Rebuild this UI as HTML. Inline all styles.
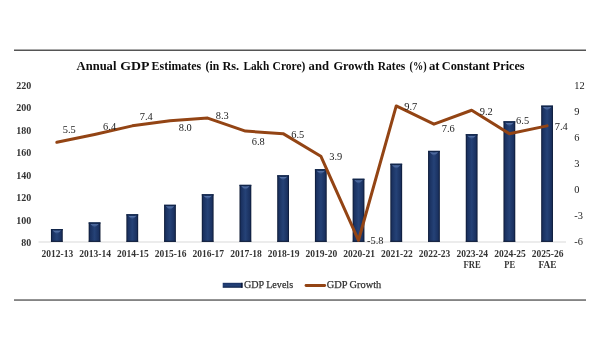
<!DOCTYPE html><html><head><meta charset="utf-8"><style>html,body{margin:0;padding:0;background:#fff;width:600px;height:350px;overflow:hidden}svg{display:block;will-change:transform}text{font-family:"Liberation Serif",serif}</style></head><body>
<svg width="600" height="350" viewBox="0 0 600 350">
<defs>
<linearGradient id="bg" x1="0" y1="0" x2="1" y2="0">
<stop offset="0" stop-color="#0a1630"/>
<stop offset="0.14" stop-color="#1a3160"/>
<stop offset="0.5" stop-color="#254277"/>
<stop offset="0.86" stop-color="#1a3160"/>
<stop offset="1" stop-color="#0a1630"/>
</linearGradient>
<linearGradient id="lg" x1="0" y1="0" x2="0" y2="1">
<stop offset="0" stop-color="#1a3262"/>
<stop offset="0.5" stop-color="#24427a"/>
<stop offset="1" stop-color="#12264c"/>
</linearGradient>
<linearGradient id="vg" x1="0" y1="0" x2="0" y2="1">
<stop offset="0" stop-color="#6f8cc0" stop-opacity="0.9"/>
<stop offset="1" stop-color="#4a68a0" stop-opacity="0.2"/>
</linearGradient>
</defs>
<rect x="14" y="49.5" width="572" height="1.5" fill="#555"/>
<rect x="14" y="299.3" width="572" height="1.5" fill="#666"/>
<text x="76.60" y="69.6" font-size="12.5" font-weight="bold" fill="#0d0d0d" textLength="39.80" lengthAdjust="spacingAndGlyphs">Annual</text>
<text x="120.20" y="69.6" font-size="12.5" font-weight="bold" fill="#0d0d0d" textLength="29.20" lengthAdjust="spacingAndGlyphs">GDP</text>
<text x="151.60" y="69.6" font-size="12.5" font-weight="bold" fill="#0d0d0d" textLength="49.60" lengthAdjust="spacingAndGlyphs">Estimates</text>
<text x="205.60" y="69.6" font-size="12.5" font-weight="bold" fill="#0d0d0d" textLength="13.60" lengthAdjust="spacingAndGlyphs">(in</text>
<text x="222.40" y="69.6" font-size="12.5" font-weight="bold" fill="#0d0d0d" textLength="16.80" lengthAdjust="spacingAndGlyphs">Rs.</text>
<text x="243.40" y="69.6" font-size="12.5" font-weight="bold" fill="#0d0d0d" textLength="25.80" lengthAdjust="spacingAndGlyphs">Lakh</text>
<text x="272.60" y="69.6" font-size="12.5" font-weight="bold" fill="#0d0d0d" textLength="32.80" lengthAdjust="spacingAndGlyphs">Crore)</text>
<text x="308.60" y="69.6" font-size="12.5" font-weight="bold" fill="#0d0d0d" textLength="20.40" lengthAdjust="spacingAndGlyphs">and</text>
<text x="333.40" y="69.6" font-size="12.5" font-weight="bold" fill="#0d0d0d" textLength="40.80" lengthAdjust="spacingAndGlyphs">Growth</text>
<text x="377.80" y="69.6" font-size="12.5" font-weight="bold" fill="#0d0d0d" textLength="27.40" lengthAdjust="spacingAndGlyphs">Rates</text>
<text x="409.60" y="69.6" font-size="12.5" font-weight="bold" fill="#0d0d0d" textLength="17.00" lengthAdjust="spacingAndGlyphs">(%)</text>
<text x="429.00" y="69.6" font-size="12.5" font-weight="bold" fill="#0d0d0d" textLength="10.60" lengthAdjust="spacingAndGlyphs">at</text>
<text x="441.80" y="69.6" font-size="12.5" font-weight="bold" fill="#0d0d0d" textLength="47.80" lengthAdjust="spacingAndGlyphs">Constant</text>
<text x="492.80" y="69.6" font-size="12.5" font-weight="bold" fill="#0d0d0d" textLength="31.80" lengthAdjust="spacingAndGlyphs">Prices</text>
<rect x="38.5" y="241.5" width="527.5" height="1" fill="#d9d9d9"/>
<text x="31.3" y="246.05" font-size="10" font-weight="bold" fill="#333" text-anchor="end">80</text>
<text x="31.3" y="223.56" font-size="10" font-weight="bold" fill="#333" text-anchor="end">100</text>
<text x="31.3" y="201.08" font-size="10" font-weight="bold" fill="#333" text-anchor="end">120</text>
<text x="31.3" y="178.59" font-size="10" font-weight="bold" fill="#333" text-anchor="end">140</text>
<text x="31.3" y="156.11" font-size="10" font-weight="bold" fill="#333" text-anchor="end">160</text>
<text x="31.3" y="133.62" font-size="10" font-weight="bold" fill="#333" text-anchor="end">180</text>
<text x="31.3" y="111.14" font-size="10" font-weight="bold" fill="#333" text-anchor="end">200</text>
<text x="31.3" y="88.65" font-size="10" font-weight="bold" fill="#333" text-anchor="end">220</text>
<text x="574.2" y="244.80" font-size="10.4" fill="#1a1a1a">-6</text>
<text x="574.2" y="218.80" font-size="10.4" fill="#1a1a1a">-3</text>
<text x="574.2" y="192.80" font-size="10.4" fill="#1a1a1a">0</text>
<text x="574.2" y="166.80" font-size="10.4" fill="#1a1a1a">3</text>
<text x="574.2" y="140.80" font-size="10.4" fill="#1a1a1a">6</text>
<text x="574.2" y="114.80" font-size="10.4" fill="#1a1a1a">9</text>
<text x="574.2" y="88.80" font-size="10.4" fill="#1a1a1a">12</text>
<rect x="50.95" y="229.01" width="11.8" height="12.79" fill="url(#bg)"/>
<rect x="50.95" y="229.01" width="11.8" height="1.3" fill="#12264a"/>
<rect x="50.95" y="240.8" width="11.8" height="1" fill="#0d1a35"/>
<path d="M52.75 230.51 Q56.85 231.21 60.95 230.51 Q58.35 233.51 56.85 233.81 Q55.35 233.51 52.75 230.51 Z" fill="url(#vg)"/>
<rect x="88.66" y="222.40" width="11.8" height="19.40" fill="url(#bg)"/>
<rect x="88.66" y="222.40" width="11.8" height="1.3" fill="#12264a"/>
<rect x="88.66" y="240.8" width="11.8" height="1" fill="#0d1a35"/>
<path d="M90.46 223.90 Q94.56 224.60 98.66 223.90 Q96.06 226.90 94.56 227.20 Q93.06 226.90 90.46 223.90 Z" fill="url(#vg)"/>
<rect x="126.37" y="214.23" width="11.8" height="27.57" fill="url(#bg)"/>
<rect x="126.37" y="214.23" width="11.8" height="1.3" fill="#12264a"/>
<rect x="126.37" y="240.8" width="11.8" height="1" fill="#0d1a35"/>
<path d="M128.17 215.73 Q132.27 216.43 136.37 215.73 Q133.77 218.73 132.27 219.03 Q130.77 218.73 128.17 215.73 Z" fill="url(#vg)"/>
<rect x="164.08" y="204.77" width="11.8" height="37.03" fill="url(#bg)"/>
<rect x="164.08" y="204.77" width="11.8" height="1.3" fill="#12264a"/>
<rect x="164.08" y="240.8" width="11.8" height="1" fill="#0d1a35"/>
<path d="M165.88 206.27 Q169.98 206.97 174.08 206.27 Q171.48 209.27 169.98 209.57 Q168.48 209.27 165.88 206.27 Z" fill="url(#vg)"/>
<rect x="201.79" y="194.22" width="11.8" height="47.58" fill="url(#bg)"/>
<rect x="201.79" y="194.22" width="11.8" height="1.3" fill="#12264a"/>
<rect x="201.79" y="240.8" width="11.8" height="1" fill="#0d1a35"/>
<path d="M203.59 195.72 Q207.69 196.42 211.79 195.72 Q209.19 198.72 207.69 199.02 Q206.19 198.72 203.59 195.72 Z" fill="url(#vg)"/>
<rect x="239.50" y="184.82" width="11.8" height="56.98" fill="url(#bg)"/>
<rect x="239.50" y="184.82" width="11.8" height="1.3" fill="#12264a"/>
<rect x="239.50" y="240.8" width="11.8" height="1" fill="#0d1a35"/>
<path d="M241.30 186.32 Q245.40 187.02 249.50 186.32 Q246.90 189.32 245.40 189.62 Q243.90 189.32 241.30 186.32 Z" fill="url(#vg)"/>
<rect x="277.21" y="175.27" width="11.8" height="66.53" fill="url(#bg)"/>
<rect x="277.21" y="175.27" width="11.8" height="1.3" fill="#12264a"/>
<rect x="277.21" y="240.8" width="11.8" height="1" fill="#0d1a35"/>
<path d="M279.01 176.77 Q283.11 177.47 287.21 176.77 Q284.61 179.77 283.11 180.07 Q281.61 179.77 279.01 176.77 Z" fill="url(#vg)"/>
<rect x="314.92" y="169.18" width="11.8" height="72.62" fill="url(#bg)"/>
<rect x="314.92" y="169.18" width="11.8" height="1.3" fill="#12264a"/>
<rect x="314.92" y="240.8" width="11.8" height="1" fill="#0d1a35"/>
<path d="M316.72 170.68 Q320.82 171.38 324.92 170.68 Q322.32 173.68 320.82 173.98 Q319.32 173.68 316.72 170.68 Z" fill="url(#vg)"/>
<rect x="352.63" y="178.71" width="11.8" height="63.09" fill="url(#bg)"/>
<rect x="352.63" y="178.71" width="11.8" height="1.3" fill="#12264a"/>
<rect x="352.63" y="240.8" width="11.8" height="1" fill="#0d1a35"/>
<path d="M354.43 180.21 Q358.53 180.91 362.63 180.21 Q360.03 183.21 358.53 183.51 Q357.03 183.21 354.43 180.21 Z" fill="url(#vg)"/>
<rect x="390.34" y="163.70" width="11.8" height="78.10" fill="url(#bg)"/>
<rect x="390.34" y="163.70" width="11.8" height="1.3" fill="#12264a"/>
<rect x="390.34" y="240.8" width="11.8" height="1" fill="#0d1a35"/>
<path d="M392.14 165.20 Q396.24 165.90 400.34 165.20 Q397.74 168.20 396.24 168.50 Q394.74 168.20 392.14 165.20 Z" fill="url(#vg)"/>
<rect x="428.05" y="150.85" width="11.8" height="90.95" fill="url(#bg)"/>
<rect x="428.05" y="150.85" width="11.8" height="1.3" fill="#12264a"/>
<rect x="428.05" y="240.8" width="11.8" height="1" fill="#0d1a35"/>
<path d="M429.85 152.35 Q433.95 153.05 438.05 152.35 Q435.45 155.35 433.95 155.65 Q432.45 155.35 429.85 152.35 Z" fill="url(#vg)"/>
<rect x="465.76" y="134.15" width="11.8" height="107.65" fill="url(#bg)"/>
<rect x="465.76" y="134.15" width="11.8" height="1.3" fill="#12264a"/>
<rect x="465.76" y="240.8" width="11.8" height="1" fill="#0d1a35"/>
<path d="M467.56 135.65 Q471.66 136.35 475.76 135.65 Q473.16 138.65 471.66 138.95 Q470.16 138.65 467.56 135.65 Z" fill="url(#vg)"/>
<rect x="503.47" y="121.26" width="11.8" height="120.54" fill="url(#bg)"/>
<rect x="503.47" y="121.26" width="11.8" height="1.3" fill="#12264a"/>
<rect x="503.47" y="240.8" width="11.8" height="1" fill="#0d1a35"/>
<path d="M505.27 122.76 Q509.37 123.46 513.47 122.76 Q510.87 125.76 509.37 126.06 Q507.87 125.76 505.27 122.76 Z" fill="url(#vg)"/>
<rect x="541.18" y="105.60" width="11.8" height="136.20" fill="url(#bg)"/>
<rect x="541.18" y="105.60" width="11.8" height="1.3" fill="#12264a"/>
<rect x="541.18" y="240.8" width="11.8" height="1" fill="#0d1a35"/>
<path d="M542.98 107.10 Q547.08 107.80 551.18 107.10 Q548.58 110.10 547.08 110.40 Q545.58 110.10 542.98 107.10 Z" fill="url(#vg)"/>
<text x="57.45" y="256.6" font-size="9.5" font-weight="bold" fill="#333" text-anchor="middle">2012-13</text>
<text x="95.16" y="256.6" font-size="9.5" font-weight="bold" fill="#333" text-anchor="middle">2013-14</text>
<text x="132.87" y="256.6" font-size="9.5" font-weight="bold" fill="#333" text-anchor="middle">2014-15</text>
<text x="170.58" y="256.6" font-size="9.5" font-weight="bold" fill="#333" text-anchor="middle">2015-16</text>
<text x="208.29" y="256.6" font-size="9.5" font-weight="bold" fill="#333" text-anchor="middle">2016-17</text>
<text x="246.00" y="256.6" font-size="9.5" font-weight="bold" fill="#333" text-anchor="middle">2017-18</text>
<text x="283.71" y="256.6" font-size="9.5" font-weight="bold" fill="#333" text-anchor="middle">2018-19</text>
<text x="321.42" y="256.6" font-size="9.5" font-weight="bold" fill="#333" text-anchor="middle">2019-20</text>
<text x="359.13" y="256.6" font-size="9.5" font-weight="bold" fill="#333" text-anchor="middle">2020-21</text>
<text x="396.84" y="256.6" font-size="9.5" font-weight="bold" fill="#333" text-anchor="middle">2021-22</text>
<text x="434.55" y="256.6" font-size="9.5" font-weight="bold" fill="#333" text-anchor="middle">2022-23</text>
<text x="472.26" y="256.6" font-size="9.5" font-weight="bold" fill="#333" text-anchor="middle">2023-24</text>
<text x="472.06" y="267.8" font-size="10" font-weight="bold" fill="#333" text-anchor="middle" textLength="17.2" lengthAdjust="spacingAndGlyphs">FRE</text>
<text x="509.97" y="256.6" font-size="9.5" font-weight="bold" fill="#333" text-anchor="middle">2024-25</text>
<text x="509.77" y="267.8" font-size="10" font-weight="bold" fill="#333" text-anchor="middle" textLength="10.8" lengthAdjust="spacingAndGlyphs">PE</text>
<text x="547.68" y="256.6" font-size="9.5" font-weight="bold" fill="#333" text-anchor="middle">2025-26</text>
<text x="547.48" y="267.8" font-size="10" font-weight="bold" fill="#333" text-anchor="middle" textLength="18" lengthAdjust="spacingAndGlyphs">FAE</text>
<polyline points="56.85,142.33 94.56,134.53 132.27,125.86 169.98,120.66 207.69,118.06 245.40,131.06 283.11,133.66 320.82,156.20 358.53,240.27 396.24,105.93 433.95,124.13 471.66,110.26 509.37,133.66 547.08,125.86" fill="none" stroke="#934414" stroke-width="3" stroke-linejoin="round" stroke-linecap="round"/>
<text x="69.30" y="132.80" font-size="10.4" fill="#1a1a1a" text-anchor="middle">5.5</text>
<text x="109.60" y="129.80" font-size="10.4" fill="#1a1a1a" text-anchor="middle">6.4</text>
<text x="146.30" y="120.30" font-size="10.4" fill="#1a1a1a" text-anchor="middle">7.4</text>
<text x="185.30" y="130.50" font-size="10.4" fill="#1a1a1a" text-anchor="middle">8.0</text>
<text x="222.30" y="118.80" font-size="10.4" fill="#1a1a1a" text-anchor="middle">8.3</text>
<text x="258.30" y="144.50" font-size="10.4" fill="#1a1a1a" text-anchor="middle">6.8</text>
<text x="297.80" y="138.30" font-size="10.4" fill="#1a1a1a" text-anchor="middle">6.5</text>
<text x="335.70" y="160.10" font-size="10.4" fill="#1a1a1a" text-anchor="middle">3.9</text>
<text x="375.30" y="244.40" font-size="10.4" fill="#1a1a1a" text-anchor="middle">-5.8</text>
<text x="410.80" y="110.00" font-size="10.4" fill="#1a1a1a" text-anchor="middle">9.7</text>
<text x="448.30" y="132.00" font-size="10.4" fill="#1a1a1a" text-anchor="middle">7.6</text>
<text x="486.30" y="114.80" font-size="10.4" fill="#1a1a1a" text-anchor="middle">9.2</text>
<text x="522.60" y="124.20" font-size="10.4" fill="#1a1a1a" text-anchor="middle">6.5</text>
<text x="561.30" y="130.30" font-size="10.4" fill="#1a1a1a" text-anchor="middle">7.4</text>
<rect x="222.7" y="282.8" width="19.8" height="5" fill="url(#lg)"/><rect x="241.2" y="282.8" width="1.3" height="5" fill="#0a1530"/>
<text x="243.9" y="287.9" font-size="10.4" fill="#333" stroke="#333" stroke-width="0.25" textLength="49.2" lengthAdjust="spacingAndGlyphs">GDP Levels</text>
<line x1="306" y1="285.5" x2="324.7" y2="285.5" stroke="#934414" stroke-width="2.8" stroke-linecap="round"/>
<text x="326.7" y="287.9" font-size="10.4" fill="#333" stroke="#333" stroke-width="0.25" textLength="54.6" lengthAdjust="spacingAndGlyphs">GDP Growth</text>
</svg></body></html>
